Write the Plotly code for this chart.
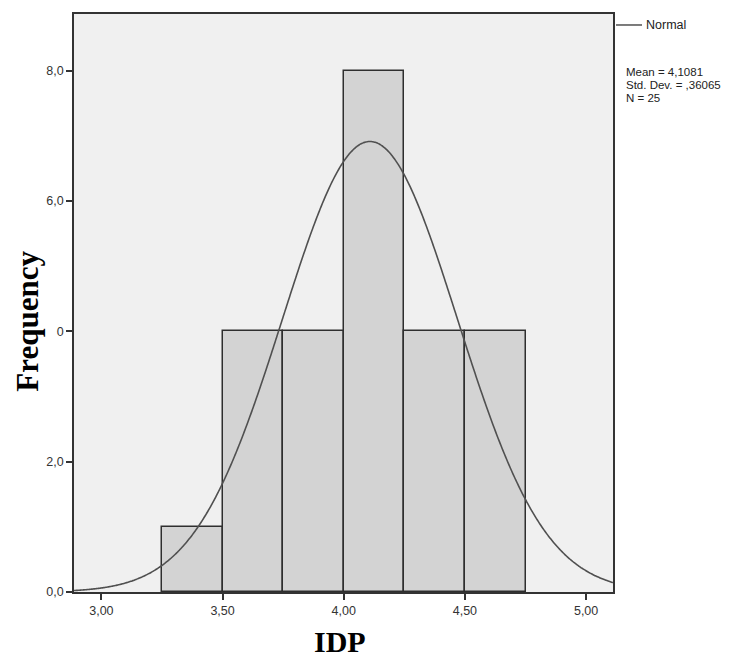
import numpy as np
import plotly.graph_objects as go

# ---- data ----
bin_left = [3.25, 3.50, 3.75, 4.00, 4.25, 4.50]
bin_width = 0.25
counts = [1, 4, 4, 8, 4, 4]
mean_val = 4.1081
std_val = 0.36065
n_val = 25
x_tickvals = [3.0, 3.5, 4.0, 4.5, 5.0]
x_ticktext = ["3,00", "3,50", "4,00", "4,50", "5,00"]
y_tickvals = [0, 2, 4, 6, 8]
y_ticktext = ["0,0", "2,0", "0", "6,0", "8,0"]
stats_lines = ["Mean = 4,1081", "Std. Dev. = ,36065", "N = 25"]

W, H = 745, 662
L, R, T, B = 74, 613, 14, 592.5
xr = [2.887, 5.111]
yr = [0, 8.87]

def px_x(p):
    return (p - L) / (R - L)

def px_y(p):
    return (B - p) / (B - T)

# normal curve from the reported statistics
xs = np.linspace(xr[0], xr[1], 400)
ys = n_val * bin_width / (std_val * np.sqrt(2 * np.pi)) * np.exp(-0.5 * ((xs - mean_val) / std_val) ** 2)

fig = go.Figure()
fig.add_trace(go.Bar(
    x=[b + bin_width / 2 for b in bin_left], y=counts, width=bin_width,
    marker=dict(color="#d3d3d3", line=dict(color="#2e2e2e", width=1.5)),
    hoverinfo="skip", showlegend=False))
fig.add_trace(go.Scatter(
    x=xs, y=ys, mode="lines", line=dict(color="#505050", width=1.6, shape="spline"),
    hoverinfo="skip", showlegend=False))

axis_font = dict(family="Liberation Sans, Arial", size=12.5, color="#333333")
fig.update_layout(
    width=W, height=H,
    margin=dict(l=L, r=W - R, t=T, b=H - B, pad=0),
    paper_bgcolor="white", plot_bgcolor="#f0f0f0",
    bargap=0,
    xaxis=dict(range=xr, tickvals=x_tickvals, ticktext=x_ticktext,
               showgrid=False, zeroline=False, showline=True, mirror=True,
               linecolor="#333333", linewidth=1.5, ticks="outside", ticklen=6,
               tickcolor="#333333", tickwidth=1.5, tickfont=axis_font),
    yaxis=dict(range=yr, tickvals=y_tickvals, ticktext=y_ticktext,
               showgrid=False, zeroline=False, showline=True, mirror=True,
               linecolor="#333333", linewidth=1.5, ticks="outside", ticklen=6,
               tickcolor="#333333", tickwidth=1.5, tickfont=axis_font),
)

title_font = dict(family="Liberation Serif, Times New Roman", size=31, color="black")
fig.add_annotation(xref="paper", yref="paper", x=px_x(28), y=px_y(322),
                   text="<b>Frequency</b>", textangle=-90, showarrow=False,
                   xanchor="center", yanchor="middle", font=title_font)
fig.add_annotation(xref="paper", yref="paper", x=px_x(340), y=px_y(642),
                   text="<b>IDP</b>", showarrow=False,
                   xanchor="center", yanchor="middle",
                   font=dict(family="Liberation Serif, Times New Roman", size=30, color="black"))

# legend-like line + label
fig.add_shape(type="line", xref="paper", yref="paper",
              x0=px_x(616), x1=px_x(642), y0=px_y(25), y1=px_y(25),
              line=dict(color="#505050", width=1.5))
fig.add_annotation(xref="paper", yref="paper", x=px_x(644), y=px_y(25),
                   text="Normal", showarrow=False, xanchor="left", yanchor="middle",
                   font=dict(family="Liberation Sans, Arial", size=12.5, color="#222222"))
for i, s in enumerate(stats_lines):
    fig.add_annotation(xref="paper", yref="paper", x=px_x(624), y=px_y(72 + 13 * i),
                       text=s, showarrow=False, xanchor="left", yanchor="middle",
                       font=dict(family="Liberation Sans, Arial", size=11.5, color="#222222"))

fig.write_html("out.html")
